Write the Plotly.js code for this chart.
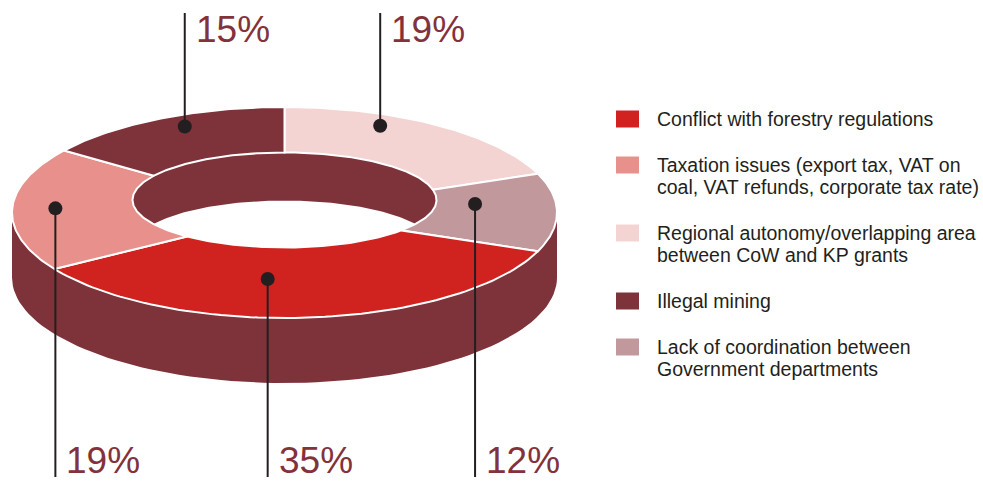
<!DOCTYPE html>
<html><head><meta charset="utf-8">
<script src="https://cdn.plot.ly/plotly-3.0.1.min.js"></script>
<style>html,body{margin:0;padding:0;background:#fff}#chart{width:983px;height:482px}</style>
</head><body><div id="chart"></div>
<script>
// ---- data (clockwise from 12 o'clock) ----
const categories = [
  'Regional autonomy/overlapping area between CoW and KP grants',
  'Lack of coordination between Government departments',
  'Conflict with forestry regulations',
  'Taxation issues (export tax, VAT on coal, VAT refunds, corporate tax rate)',
  'Illegal mining'
];
const values = [19, 12, 35, 19, 15];
const sliceColors = ['#f4d4d3', '#c1989c', '#d02320', '#e8908b', '#7e3239'];
const legendOrder = [2, 3, 0, 4, 1];
const legendLines = [
  ['Regional autonomy/overlapping area', 'between CoW and KP grants'],
  ['Lack of coordination between', 'Government departments'],
  ['Conflict with forestry regulations'],
  ['Taxation issues (export tax, VAT on', 'coal, VAT refunds, corporate tax rate)'],
  ['Illegal mining']
];

// ---- geometry / style (pixel units) ----
const FONT = 'Liberation Sans, Arial, Helvetica, sans-serif';
const WALL = '#7e3239';
const outer = {cx: 284.5, cy: 212.5, rx: 272.5, ry: 105.5};
const inner = {cx: 284.5, cy: 200, rx: 152, ry: 47.5};
const outerDepth = 65, innerDepth = 48;
const labelPlace = [
  {frac: 0.34, t: 0.75, side: 'top'},
  {frac: 0.50, t: 0.32, side: 'bottom'},
  {frac: 0.58, t: 0.45, side: 'bottom'},
  {frac: 0.47, t: 0.64, side: 'bottom'},
  {frac: 0.55, t: 0.75, side: 'top'}
];
const legendY = [119, 165, 233, 301, 347];
const legendGap = 22;

const rad = d => d * Math.PI / 180;
function pt(e, th, dy) { return [e.cx + e.rx * Math.sin(rad(th)), e.cy - e.ry * Math.cos(rad(th)) + (dy || 0)]; }
function arc(e, a, b, dy, n) {
  const xs = [], ys = []; n = n || 80;
  for (let i = 0; i <= n; i++) { const p = pt(e, a + (b - a) * i / n, dy); xs.push(p[0]); ys.push(p[1]); }
  return [xs, ys];
}
// angle on inner ellipse where the line from the outer centre through the outer boundary point meets it
function innerAngle(th) {
  const p = pt(outer, th, 0);
  const dx = p[0] - outer.cx, dy = p[1] - outer.cy;
  const ox = (outer.cx - inner.cx) / inner.rx, oy = (outer.cy - inner.cy) / inner.ry;
  const ux = dx / inner.rx, uy = dy / inner.ry;
  const A = ux * ux + uy * uy, B = 2 * (ox * ux + oy * uy), Cq = ox * ox + oy * oy - 1;
  const t = (-B + Math.sqrt(B * B - 4 * A * Cq)) / (2 * A);
  const x = ox + t * ux, y = oy + t * uy;
  let phi = Math.atan2(x, -y) * 180 / Math.PI;
  while (phi < th - 180) phi += 360;
  while (phi > th + 180) phi -= 360;
  return phi;
}
function poly(x, y, color, lw) {
  return {type: 'scatter', mode: 'lines', x: x, y: y, fill: 'toself', fillcolor: color,
          line: {color: '#ffffff', width: lw || 0}, hoverinfo: 'skip', showlegend: false};
}

const traces = [];
// outer wall (front side)
let a1 = arc(outer, 90, 270, 0), a2 = arc(outer, 270, 90, outerDepth);
traces.push(poly(a1[0].concat(a2[0]), a1[1].concat(a2[1]), WALL, 0));
// inner wall (full inner ellipse) and see-through part
let ie = arc(inner, 0, 360, 0, 160);
traces.push(poly(ie[0], ie[1], WALL, 0));
const s = innerDepth / (2 * inner.ry);
const alpha = Math.acos(s) * 180 / Math.PI;
let h1 = arc(inner, -alpha, alpha, innerDepth), h2 = arc(inner, 180 - alpha, 180 + alpha, 0);
traces.push(poly(h1[0].concat(h2[0]), h1[1].concat(h2[1]), '#ffffff', 0));

// top-face slices
const total = values.reduce((p, c) => p + c, 0);
let start = 0; const dots = [];
values.forEach((v, i) => {
  const span = v / total * 360, end = start + span;
  const o = arc(outer, start, end, 0), n = arc(inner, innerAngle(end), innerAngle(start), 0);
  const tr = poly(o[0].concat(n[0]), o[1].concat(n[1]), sliceColors[i], 2);
  tr.x.push(o[0][0]); tr.y.push(o[1][0]);
  traces.push(tr);
  const lp = labelPlace[i], t = lp.t;
  const e = {cx: inner.cx + (outer.cx - inner.cx) * t, cy: inner.cy + (outer.cy - inner.cy) * t,
             rx: inner.rx + (outer.rx - inner.rx) * t, ry: inner.ry + (outer.ry - inner.ry) * t};
  dots.push(pt(e, start + span * lp.frac, 0));
  start = end;
});

// leader lines + dots
const lx = [], ly = [];
dots.forEach((d, i) => {
  lx.push(d[0], d[0], null);
  ly.push(d[1], labelPlace[i].side === 'top' ? 13 : 477, null);
});
traces.push({type: 'scatter', mode: 'lines', x: lx, y: ly, line: {color: '#231f20', width: 2},
             hoverinfo: 'skip', showlegend: false});
traces.push({type: 'scatter', mode: 'markers', x: dots.map(d => d[0]), y: dots.map(d => d[1]),
             marker: {color: '#231f20', size: 14}, hoverinfo: 'skip', showlegend: false});

const annotations = values.map((v, i) => {
  const top = labelPlace[i].side === 'top';
  return {
    x: dots[i][0] + 10, y: top ? 29 : 481.5, xref: 'x', yref: 'y',
    xanchor: 'left', yanchor: top ? 'middle' : 'bottom', borderpad: 0, showarrow: false, text: v + '%',
    font: {family: FONT, size: 37, color: '#83323b'}
  };
});
const shapes = [];
legendOrder.forEach((ci, k) => {
  const y0 = legendY[k];
  shapes.push({type: 'rect', xref: 'x', yref: 'y', x0: 616, x1: 639, y0: y0 - 8.5, y1: y0 + 8.5,
               fillcolor: sliceColors[ci], line: {width: 0}});
  legendLines[ci].forEach((txt, j) => {
    annotations.push({x: 654.5, y: y0 + j * legendGap, xref: 'x', yref: 'y', xanchor: 'left', yanchor: 'middle',
      showarrow: false, text: txt, font: {family: FONT, size: 19.5, color: '#231f20'}});
  });
});

const layout = {
  width: 983, height: 482, margin: {l: 0, r: 0, t: 0, b: 0},
  paper_bgcolor: '#ffffff', plot_bgcolor: '#ffffff', showlegend: false,
  xaxis: {range: [0, 983], visible: false, fixedrange: true},
  yaxis: {range: [482, 0], visible: false, fixedrange: true},
  annotations: annotations, shapes: shapes
};
Plotly.newPlot('chart', traces, layout, {staticPlot: true, displayModeBar: false});
</script></body></html>
